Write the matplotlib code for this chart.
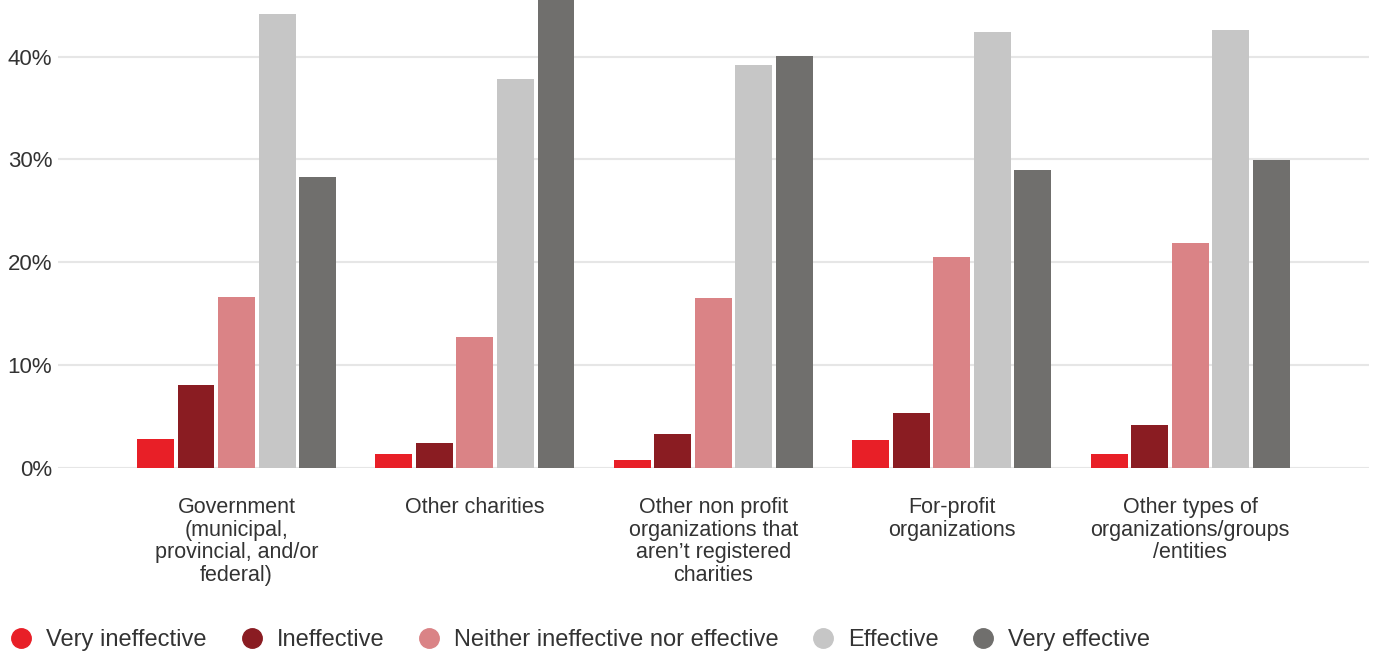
import numpy as np
import matplotlib.pyplot as plt
from matplotlib.lines import Line2D

plt.rcParams['font.family'] = ['Liberation Sans', 'DejaVu Sans']

categories = [
    "Government\n(municipal,\nprovincial, and/or\nfederal)",
    "Other charities",
    "Other non profit\norganizations that\naren\u2019t registered\ncharities",
    "For-profit\norganizations",
    "Other types of\norganizations/groups\n/entities",
]
series_names = ["Very ineffective", "Ineffective", "Neither ineffective nor effective",
                "Effective", "Very effective"]
very_ineffective = [2.8, 1.4, 0.8, 2.7, 1.4]
ineffective = [8.1, 2.4, 3.3, 5.3, 4.2]
neither = [16.6, 12.7, 16.5, 20.5, 21.9]
effective = [44.1, 37.8, 39.2, 42.4, 42.6]
very_effective = [28.3, 47.0, 40.1, 29.0, 29.9]

colors = ["#e81f27", "#8a1c22", "#da8386", "#c6c6c6", "#706f6d"]
series = [very_ineffective, ineffective, neither, effective, very_effective]

fig = plt.figure(figsize=(13.75, 6.53), dpi=100)
ax = fig.add_axes([0.042, 0.2833, 0.9536, 0.7167])

x = np.arange(len(categories))
step = 0.17
width = 0.155
for j, (vals, c) in enumerate(zip(series, colors)):
    ax.bar(x + (j - 2) * step, vals, width, color=c, zorder=3)

ax.set_xlim(-0.75, 4.75)
ax.set_ylim(0, 45.5)
ax.set_yticks([0, 10, 20, 30, 40])
ax.set_yticklabels(["0%", "10%", "20%", "30%", "40%"])
ax.yaxis.grid(True, color="#e6e6e6", linewidth=1.5, zorder=0)
ax.set_axisbelow(True)
for s in ax.spines.values():
    s.set_visible(False)
ax.set_xticks(x)
ax.set_xticklabels(categories, fontsize=15.5, color="#333333", linespacing=1.1, va="top")
ax.tick_params(axis="x", length=0, pad=21)
ax.tick_params(axis="y", length=0, pad=4, labelsize=16, labelcolor="#333333")

handles = [Line2D([], [], marker="o", linestyle="none", markersize=14,
                  markerfacecolor=c, markeredgecolor=c) for c in colors]
fig.legend(handles, series_names, loc="lower left", bbox_to_anchor=(-0.005, -0.022),
           ncol=5, frameon=False, fontsize=17, labelcolor="#333333",
           handletextpad=0.55, columnspacing=1.4, borderaxespad=0.3, handlelength=1.0)

fig.savefig("out.png", dpi=100)
